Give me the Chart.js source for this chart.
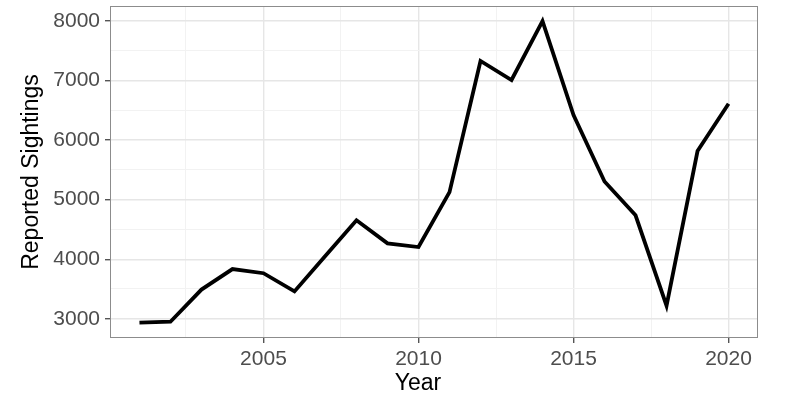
<!DOCTYPE html>
<html>
<head>
<meta charset="utf-8">
<script src="https://cdn.jsdelivr.net/npm/chart.js@4/dist/chart.umd.min.js"></script>
<style>
  html, body { margin: 0; padding: 0; background: #ffffff; }
  #wrap { width: 800px; height: 400px; }
</style>
</head>
<body>
<div id="wrap"><canvas id="c" width="800" height="400"></canvas></div>
<script>
const years = [2001, 2002, 2003, 2004, 2005, 2006, 2007, 2008, 2009, 2010,
               2011, 2012, 2013, 2014, 2015, 2016, 2017, 2018, 2019, 2020];
const sightings = [2935, 2950, 3490, 3835, 3765, 3460, 4060, 4655, 4267, 4205,
                   5128, 7330, 7010, 8000, 6420, 5305, 4738, 3220, 5817, 6612];
const xMajorTicks = [2005, 2010, 2015, 2020];
const xMinorTicks = [2002.5, 2007.5, 2012.5, 2017.5];
const yMajorTicks = [3000, 4000, 5000, 6000, 7000, 8000];
const yMinorTicks = [3500, 4500, 5500, 6500, 7500];
const xTitle = 'Year';
const yTitle = 'Reported Sightings';

const points = years.map((y, i) => ({ x: y, y: sightings[i] }));
const FONT = "'Liberation Sans', Arial, Helvetica, sans-serif";

const panelDecor = {
  id: 'panelDecor',
  afterDraw(chart) {
    const { ctx, chartArea: a } = chart;
    ctx.save();
    ctx.strokeStyle = '#8c8c8c';
    ctx.lineWidth = 1;
    ctx.strokeRect(a.left + 0.5, a.top + 0.5, a.right - a.left - 1, a.bottom - a.top - 1);
    ctx.fillStyle = '#000000';
    ctx.font = "23px " + FONT;
    ctx.textAlign = 'center';
    ctx.textBaseline = 'alphabetic';
    ctx.fillText(xTitle, (a.left + a.right) / 2 - 16, 390);
    ctx.restore();
  }
};

const isMajorX = v => xMajorTicks.includes(v);
const isMajorY = v => yMajorTicks.includes(v);

new Chart(document.getElementById('c'), {
  type: 'line',
  data: {
    datasets: [{
      data: points,
      borderColor: '#000000',
      borderWidth: 3.8,
      pointRadius: 0,
      tension: 0,
      fill: false,
      borderJoinStyle: 'miter'
    }]
  },
  options: {
    responsive: false,
    animation: false,
    devicePixelRatio: 1,
    layout: { padding: { top: 6, right: 42, left: 0, bottom: 0 } },
    plugins: { legend: { display: false }, tooltip: { enabled: false } },
    scales: {
      x: {
        type: 'linear',
        min: 2000.05,
        max: 2020.95,
        afterBuildTicks: s => { s.ticks = [...xMinorTicks, ...xMajorTicks].sort((a, b) => a - b).map(v => ({ value: v })); },
        afterFit: s => { s.height = 62; s.paddingLeft = 0; s.paddingRight = 0; },
        grid: {
          color: ctx => (ctx.tick && isMajorX(ctx.tick.value)) ? '#e6e6e6' : '#f2f2f2',
          lineWidth: ctx => (ctx.tick && isMajorX(ctx.tick.value)) ? 1.4 : 1,
          tickColor: ctx => (ctx.tick && isMajorX(ctx.tick.value)) ? '#555555' : 'rgba(0,0,0,0)',
          tickLength: 5,
          drawOnChartArea: true
        },
        border: { display: false },
        ticks: {
          autoSkip: false,
          maxRotation: 0,
          padding: 4,
          color: '#4d4d4d',
          font: { family: FONT, size: 21 },
          callback: v => isMajorX(v) ? String(v) : ''
        },
        title: { display: false }
      },
      y: {
        type: 'linear',
        min: 2677,
        max: 8253,
        afterBuildTicks: s => { s.ticks = [...yMinorTicks, ...yMajorTicks].sort((a, b) => a - b).map(v => ({ value: v })); },
        afterFit: s => { s.width = 110; s.paddingTop = 0; s.paddingBottom = 0; },
        grid: {
          color: ctx => (ctx.tick && isMajorY(ctx.tick.value)) ? '#e6e6e6' : '#f2f2f2',
          lineWidth: ctx => (ctx.tick && isMajorY(ctx.tick.value)) ? 1.4 : 1,
          tickColor: ctx => (ctx.tick && isMajorY(ctx.tick.value)) ? '#555555' : 'rgba(0,0,0,0)',
          tickLength: 5
        },
        border: { display: false },
        ticks: {
          autoSkip: false,
          padding: 5,
          color: '#4d4d4d',
          font: { family: FONT, size: 21 },
          callback: v => isMajorY(v) ? String(v) : ''
        },
        title: {
          display: true,
          text: yTitle,
          color: '#000000',
          font: { family: FONT, size: 23 },
          padding: { top: 18, bottom: 0 }
        }
      }
    }
  },
  plugins: [panelDecor]
});
</script>
</body>
</html>
